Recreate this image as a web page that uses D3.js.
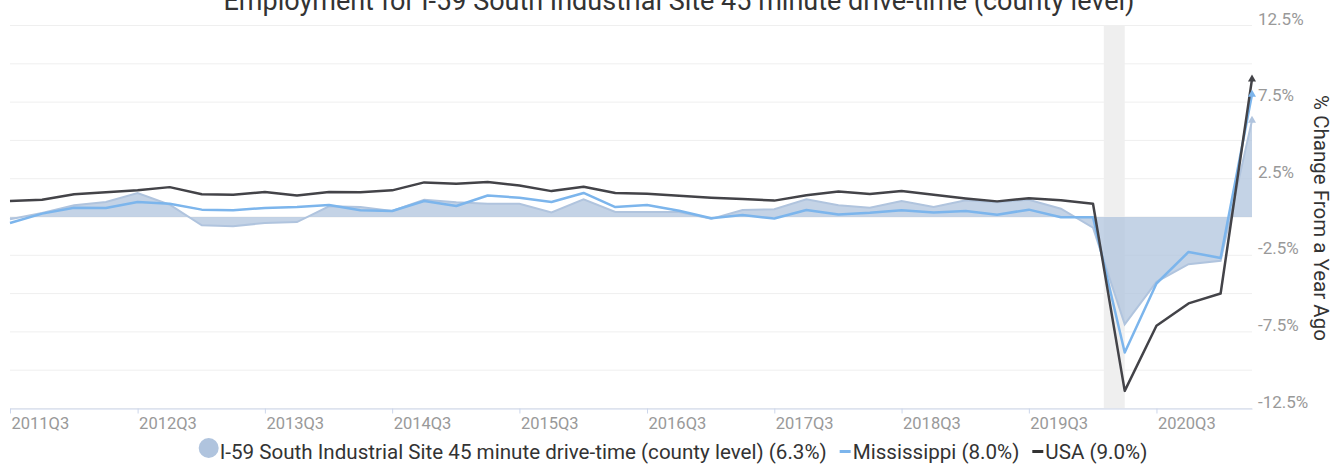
<!DOCTYPE html>
<html>
<head>
<meta charset="utf-8">
<script src="https://cdn.jsdelivr.net/npm/d3@7"></script>
<style>
  body { margin: 0; background: #fff; }
  svg { display: block; font-family: Roboto, "Noto Sans", sans-serif; }
</style>
</head>
<body>
<div id="chart"></div>
<script>
const quarters = [
  "2011Q3", "2011Q4", "2012Q1", "2012Q2", "2012Q3", "2012Q4", "2013Q1", "2013Q2",
  "2013Q3", "2013Q4", "2014Q1", "2014Q2", "2014Q3", "2014Q4", "2015Q1", "2015Q2",
  "2015Q3", "2015Q4", "2016Q1", "2016Q2", "2016Q3", "2016Q4", "2017Q1", "2017Q2",
  "2017Q3", "2017Q4", "2018Q1", "2018Q2", "2018Q3", "2018Q4", "2019Q1", "2019Q2",
  "2019Q3", "2019Q4", "2020Q1", "2020Q2", "2020Q3", "2020Q4", "2021Q1", "2021Q2"
];

const siteValues = [
  -0.15, 0.26, 0.76, 0.98, 1.56, 0.80, -0.54, -0.60, -0.39, -0.33,
  0.70, 0.65, 0.39, 1.13, 0.96, 0.87, 0.87, 0.30, 1.16, 0.33,
  0.33, 0.33, -0.12, 0.46, 0.51, 1.16, 0.77, 0.60, 1.04, 0.65,
  1.09, 0.96, 1.13, 0.54, -0.70, -7.00, -4.23, -3.08, -2.86, 6.3
];

const mississippiValues = [
  -0.39, 0.22, 0.61, 0.59, 0.98, 0.87, 0.48, 0.44, 0.59, 0.65,
  0.78, 0.44, 0.39, 1.04, 0.72, 1.40, 1.26, 0.98, 1.57, 0.65,
  0.78, 0.41, -0.08, 0.13, -0.10, 0.46, 0.16, 0.27, 0.44, 0.30,
  0.39, 0.15, 0.48, -0.02, -0.02, -8.85, -4.34, -2.28, -2.67, 8.0
];

const usaValues = [
  1.04, 1.13, 1.48, 1.61, 1.74, 1.95, 1.48, 1.45, 1.63, 1.41,
  1.63, 1.61, 1.74, 2.26, 2.17, 2.29, 2.05, 1.69, 1.97, 1.57,
  1.52, 1.38, 1.26, 1.18, 1.07, 1.42, 1.67, 1.50, 1.69, 1.45,
  1.21, 1.02, 1.22, 1.09, 0.87, -11.35, -7.10, -5.64, -4.99, 9.0
];

const xTickLabels = ["2011Q3", "2012Q3", "2013Q3", "2014Q3", "2015Q3",
  "2016Q3", "2017Q3", "2018Q3", "2019Q3", "2020Q3"];
const yGridValues = [-12.5, -10, -7.5, -5, -2.5, 0, 2.5, 5, 7.5, 10, 12.5];
const yLabelValues = [12.5, 7.5, 2.5, -2.5, -7.5, -12.5];
const recession = ["2020-02-01", "2020-04-01"];

const seriesNames = [
  "I-59 South Industrial Site 45 minute drive-time (county level)",
  "Mississippi",
  "USA"
];

const width = 1335;
const height = 466;
const plot = { left: 10, right: 1252, top: 25.5, bottom: 408.5 };

function parseQuarter(q) {
  const year = +q.slice(0, 4);
  const quarter = +q.slice(5);
  return new Date(year, (quarter - 1) * 3, 1);
}

const dates = quarters.map(parseQuarter);

const svg = d3.select("#chart")
  .append("svg")
  .attr("width", width)
  .attr("height", height);

const xScale = d3.scaleTime()
  .domain(d3.extent(dates))
  .range([plot.left, plot.right]);

const yScale = d3.scaleLinear()
  .domain([-12.5, 12.5])
  .range([plot.bottom, plot.top]);

// grid
svg.append("g")
  .selectAll("line")
  .data(yGridValues)
  .join("line")
  .attr("x1", plot.left)
  .attr("x2", plot.right)
  .attr("y1", (d) => yScale(d))
  .attr("y2", (d) => yScale(d))
  .attr("stroke", "#efefef")
  .attr("stroke-width", 1);

// recession band
const bandStart = xScale(new Date(recession[0] + "T00:00:00"));
const bandEnd = xScale(new Date(recession[1] + "T00:00:00"));
svg.append("rect")
  .attr("x", bandStart)
  .attr("y", plot.top)
  .attr("width", bandEnd - bandStart)
  .attr("height", plot.bottom - plot.top)
  .attr("fill", "#efefef");

const rows = (values) => values.map((v, i) => ({ date: dates[i], value: v }));
const siteData = rows(siteValues);
const missData = rows(mississippiValues);
const usaData = rows(usaValues);

const area = d3.area()
  .x((d) => xScale(d.date))
  .y0(yScale(0))
  .y1((d) => yScale(d.value));

const line = d3.line()
  .x((d) => xScale(d.date))
  .y((d) => yScale(d.value));

svg.append("path")
  .datum(siteData)
  .attr("d", area)
  .attr("fill", "#b0c4de")
  .attr("fill-opacity", 0.75);

svg.append("path")
  .datum(siteData)
  .attr("d", line)
  .attr("fill", "none")
  .attr("stroke", "#b0c4de")
  .attr("stroke-width", 2);

svg.append("path")
  .datum(missData)
  .attr("d", line)
  .attr("fill", "none")
  .attr("stroke", "#7cb5ec")
  .attr("stroke-width", 2.5)
  .attr("stroke-linejoin", "round");

svg.append("path")
  .datum(usaData)
  .attr("d", line)
  .attr("fill", "none")
  .attr("stroke", "#434348")
  .attr("stroke-width", 2.5)
  .attr("stroke-linejoin", "round");

// end markers
const ends = [
  { d: siteData[siteData.length - 1], color: "#b0c4de" },
  { d: missData[missData.length - 1], color: "#7cb5ec" },
  { d: usaData[usaData.length - 1], color: "#434348" }
];
svg.append("g")
  .selectAll("path")
  .data(ends)
  .join("path")
  .attr("transform", (e) => `translate(${xScale(e.d.date)},${yScale(e.d.value)})`)
  .attr("d", d3.symbol(d3.symbolTriangle).size(28))
  .attr("fill", (e) => e.color);

// x axis
const xAxisG = svg.append("g")
  .attr("transform", `translate(0,${plot.bottom})`)
  .call(d3.axisBottom(xScale)
    .tickValues(xTickLabels.map(parseQuarter))
    .tickFormat((d, i) => xTickLabels[i])
    .tickSize(5)
    .tickSizeOuter(0));
xAxisG.select(".domain").attr("stroke", "#ccd6eb");
xAxisG.selectAll(".tick line").attr("stroke", "#ccd6eb");
xAxisG.selectAll(".tick text")
  .attr("text-anchor", "start")
  .attr("x", 1)
  .attr("y", 20)
  .attr("dy", 0)
  .attr("fill", "#999")
  .attr("font-size", "16.5px")
  .attr("font-family", "Roboto, sans-serif");

// y axis labels on the right
const yAxisG = svg.append("g")
  .attr("transform", `translate(${plot.right},0)`)
  .call(d3.axisRight(yScale)
    .tickValues(yLabelValues)
    .tickFormat((d) => `${d}%`)
    .tickSize(0)
    .tickPadding(6));
yAxisG.select(".domain").remove();
yAxisG.selectAll(".tick text")
  .attr("dy", "-0.08em")
  .attr("fill", "#999")
  .attr("font-size", "17px")
  .attr("font-family", "Roboto, sans-serif");

// title
svg.append("text")
  .attr("x", 679)
  .attr("y", 10)
  .attr("text-anchor", "middle")
  .attr("font-size", "27px")
  .attr("fill", "#333")
  .text("Employment for I-59 South Industrial Site 45 minute drive-time (county level)");

svg.append("text")
  .attr("transform", `translate(1314,218) rotate(90)`)
  .attr("text-anchor", "middle")
  .attr("font-size", "20.5px")
  .attr("fill", "#333")
  .text("% Change From a Year Ago");

// legend
const legendItems = [
  { label: `${seriesNames[0]} (${siteValues[siteValues.length - 1].toFixed(1)}%)`, color: "#b0c4de", type: "circle" },
  { label: `${seriesNames[1]} (${mississippiValues[mississippiValues.length - 1].toFixed(1)}%)`, color: "#7cb5ec", type: "line" },
  { label: `${seriesNames[2]} (${usaValues[usaValues.length - 1].toFixed(1)}%)`, color: "#333", type: "line" }
];

const legendG = svg.append("g").attr("transform", "translate(0,459)");
let cursor = 0;
const itemGs = legendG.selectAll("g")
  .data(legendItems)
  .join("g");

itemGs.each(function (d) {
  const g = d3.select(this);
  let textX;
  if (d.type === "circle") {
    g.append("circle").attr("cx", 10).attr("cy", -11).attr("r", 10).attr("fill", d.color);
    textX = 21;
  } else {
    g.append("rect").attr("x", 0).attr("y", -9).attr("width", 11).attr("height", 3).attr("fill", d.color);
    textX = 13;
  }
  const t = g.append("text")
    .attr("x", textX)
    .attr("font-size", "20.6px")
    .attr("fill", "#333")
    .text(d.label);
  d.w = textX + t.node().getComputedTextLength();
});

const gap = 13;
const total = d3.sum(legendItems, (d) => d.w) + gap * (legendItems.length - 1);
cursor = 673 - total / 2;
itemGs.attr("transform", (d) => {
  const x = cursor;
  cursor += d.w + gap;
  return `translate(${x},0)`;
});
</script>
</body>
</html>
